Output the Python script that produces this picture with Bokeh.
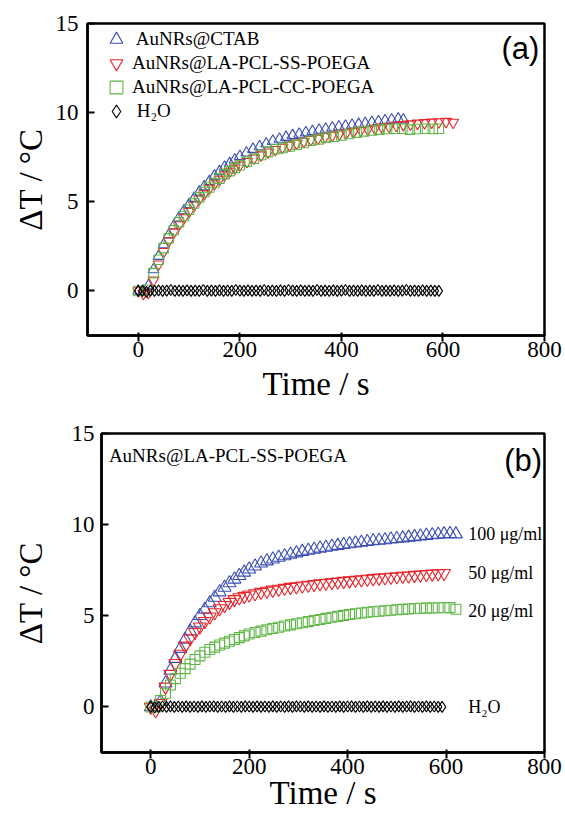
from bokeh.plotting import figure
from bokeh.models import ColumnDataSource, FixedTicker, Label, Legend, LegendItem, Range1d
from bokeh.embed import file_html
from bokeh.resources import INLINE

# ---------------- data: panel (a) ----------------
x_ticks = [0, 200, 400, 600, 800]
y_ticks = [0, 5, 10, 15]

t_ctab = [0, 10, 20, 30, 40, 50, 60, 70, 80, 90, 100, 110, 120, 130, 140, 150, 160, 170, 180, 190, 200,
          213, 226, 239, 252, 265, 278, 291, 304, 317, 330, 343, 356, 369, 382, 395, 408, 421, 434, 447,
          460, 473, 486, 499, 512, 522]
dT_ctab = [0.0, 0.0, 0.3, 1.2, 1.95, 2.6, 3.15, 3.65, 4.1, 4.5, 4.85, 5.2, 5.55, 5.85, 6.15, 6.45, 6.7, 6.95,
           7.15, 7.35, 7.55, 7.75, 7.95, 8.1, 8.25, 8.4, 8.52, 8.62, 8.72, 8.8, 8.88, 8.95, 9.02, 9.08, 9.15,
           9.2, 9.25, 9.3, 9.35, 9.4, 9.45, 9.5, 9.55, 9.6, 9.65, 9.6]

t_ss = [0, 10, 20, 30, 40, 50, 60, 70, 80, 90, 100, 110, 120, 130, 140, 150, 160, 170, 180, 190, 200,
        214, 228, 242, 256, 270, 284, 298, 312, 326, 340, 354, 368, 382, 396, 410, 424, 438, 452, 466,
        480, 494, 508, 522, 536, 550, 564, 578, 592, 606, 620]
dT_ss = [0.0, -0.15, -0.1, 0.6, 1.5, 2.2, 2.8, 3.3, 3.7, 4.1, 4.45, 4.8, 5.15, 5.45, 5.75, 6.0, 6.25, 6.5,
         6.7, 6.88, 7.05, 7.25, 7.45, 7.62, 7.78, 7.92, 8.05, 8.17, 8.28, 8.38, 8.48, 8.56, 8.64, 8.72, 8.8,
         8.87, 8.94, 9.0, 9.06, 9.12, 9.18, 9.23, 9.28, 9.32, 9.36, 9.4, 9.43, 9.46, 9.48, 9.5, 9.45]

t_cc = [0, 18, 30, 40, 50, 60, 70, 80, 90, 100, 110, 120, 130, 140, 150, 160, 170, 180, 190, 200,
        214, 228, 242, 256, 270, 284, 298, 312, 326, 340, 355, 370, 385, 400, 415, 430, 445, 460, 475,
        490, 505, 520, 535, 550, 565, 580, 592]
dT_cc = [0.0, 0.05, 1.0, 1.75, 2.4, 2.95, 3.4, 3.85, 4.2, 4.55, 4.9, 5.25, 5.55, 5.8, 6.05, 6.3, 6.55, 6.72,
         6.9, 7.05, 7.25, 7.42, 7.62, 7.8, 7.95, 8.02, 8.1, 8.2, 8.3, 8.42, 8.5, 8.6, 8.65, 8.72, 8.8, 8.88,
         8.95, 9.0, 9.05, 9.08, 9.1, 9.1, 9.05, 9.08, 9.1, 9.08, 9.1]

t_h2o = [0, 8, 16, 24, 32, 40, 48, 56, 64, 72, 80, 88, 96, 104, 112, 120, 128, 136, 144, 152,
         160, 168, 176, 184, 192, 200, 208, 216, 224, 232, 240, 248, 256, 264, 272, 280, 288, 296, 304, 312,
         320, 328, 336, 344, 352, 360, 368, 376, 384, 392, 400, 408, 416, 424, 432, 440, 448, 456, 464, 472,
         480, 488, 496, 504, 512, 520, 528, 536, 544, 552, 560, 568, 576, 584, 592]
dT_h2o_a = [0.0, 0.0, -0.05, 0.02, 0.0, 0.03, 0.0, 0.02, 0.05, 0.0,
            0.02, 0.0, 0.03, 0.0, 0.02, 0.0, 0.05, 0.0, 0.02, 0.0,
            0.03, 0.0, 0.02, 0.0, 0.05, 0.02, 0.0, 0.03, 0.0, 0.02,
            0.0, 0.05, 0.0, 0.02, 0.0, 0.03, 0.0, 0.05, 0.02, 0.0,
            0.03, 0.0, 0.02, 0.0, 0.05, 0.0, 0.02, 0.0, 0.03, 0.0,
            0.02, 0.05, 0.0, 0.02, 0.0, 0.03, 0.0, 0.02, 0.0, 0.05,
            0.0, 0.02, 0.0, 0.03, 0.0, 0.02, 0.05, 0.0, 0.02, 0.0,
            0.03, 0.0, 0.02, 0.0, 0.0]

names_a = [" AuNRs@CTAB", "AuNRs@LA-PCL-SS-POEGA", "AuNRs@LA-PCL-CC-POEGA", " H\u2082O"]

# ---------------- data: panel (b) ----------------
t_100 = [0, 10, 20, 30, 40, 50, 60, 70, 80, 90, 100, 110, 120, 130, 140, 150, 160, 170, 180, 190, 200,
         212, 224, 236, 248, 260, 272, 284, 296, 308, 320, 332, 344, 356, 368, 380, 392, 404, 416, 428,
         440, 452, 464, 476, 488, 500, 512, 524, 536, 548, 560, 572, 584, 596, 608, 620]
dT_100 = [0.0, 0.0, 0.3, 1.3, 2.0, 2.65, 3.2, 3.7, 4.15, 4.6, 5.0, 5.35, 5.7, 6.0, 6.3, 6.55, 6.8, 7.0, 7.2,
          7.38, 7.55, 7.72, 7.88, 8.0, 8.1, 8.2, 8.28, 8.36, 8.44, 8.52, 8.58, 8.64, 8.7, 8.75, 8.8, 8.85,
          8.9, 8.94, 8.98, 9.02, 9.06, 9.1, 9.13, 9.16, 9.2, 9.23, 9.26, 9.3, 9.33, 9.36, 9.4, 9.43, 9.46,
          9.48, 9.5, 9.48]

t_50 = [0, 10, 20, 30, 40, 50, 60, 70, 80, 90, 100, 110, 120, 130, 140, 150, 160, 170, 180, 190, 200,
        212, 224, 236, 248, 260, 272, 284, 296, 308, 320, 332, 344, 356, 368, 380, 392, 404, 416, 428,
        440, 452, 464, 476, 488, 500, 512, 524, 536, 548, 560, 572, 584, 596]
dT_50 = [0.0, -0.2, 0.2, 1.1, 1.8, 2.4, 2.9, 3.35, 3.75, 4.1, 4.4, 4.7, 4.95, 5.18, 5.4, 5.58, 5.75, 5.9,
         6.0, 6.08, 6.15, 6.22, 6.3, 6.36, 6.42, 6.47, 6.52, 6.57, 6.61, 6.65, 6.69, 6.73, 6.77, 6.8, 6.84,
         6.87, 6.9, 6.93, 6.96, 6.99, 7.02, 7.05, 7.08, 7.1, 7.13, 7.15, 7.18, 7.2, 7.23, 7.25, 7.28, 7.3,
         7.32, 7.33]

t_20 = [0, 10, 20, 30, 40, 50, 60, 70, 80, 90, 100, 110, 120, 130, 140, 150, 160, 170, 180, 190, 200,
        212, 224, 236, 248, 260, 272, 284, 296, 308, 320, 332, 344, 356, 368, 380, 392, 404, 416, 428,
        440, 452, 464, 476, 488, 500, 512, 524, 536, 548, 560, 572, 584, 596, 608, 620]
dT_20 = [0.0, 0.0, 0.35, 0.75, 1.2, 1.55, 1.85, 2.1, 2.35, 2.6, 2.8, 3.0, 3.15, 3.28, 3.4, 3.5, 3.6, 3.7,
         3.8, 3.9, 4.0, 4.08, 4.16, 4.23, 4.3, 4.37, 4.44, 4.5, 4.56, 4.62, 4.68, 4.74, 4.8, 4.86, 4.92,
         4.97, 5.02, 5.07, 5.11, 5.15, 5.19, 5.22, 5.25, 5.28, 5.3, 5.33, 5.35, 5.37, 5.4, 5.41, 5.42, 5.43,
         5.44, 5.44, 5.45, 5.36]

dT_h2o_b = [0.0, -0.03, 0.0, 0.02, 0.0, 0.03, 0.0, 0.02, 0.0, 0.03,
            0.0, 0.02, 0.0, 0.03, 0.0, 0.02, 0.03, 0.0, 0.02, 0.0,
            0.03, 0.0, 0.02, 0.0, 0.03, 0.02, 0.0, 0.03, 0.0, 0.02,
            0.0, 0.03, 0.0, 0.02, 0.0, 0.03, 0.0, 0.03, 0.02, 0.0,
            0.03, 0.0, 0.02, 0.0, 0.03, 0.0, 0.02, 0.0, 0.03, 0.0,
            0.02, 0.03, 0.0, 0.02, 0.0, 0.03, 0.0, 0.02, 0.0, 0.03,
            0.0, 0.02, 0.0, 0.03, 0.0, 0.02, 0.03, 0.0, 0.02, 0.0,
            0.03, 0.0, 0.02, 0.0, 0.0]

title_b = "AuNRs@LA-PCL-SS-POEGA"
conc_labels = ["100 \u03bcg/ml", "50 \u03bcg/ml", "20 \u03bcg/ml", "H\u2082O"]

# ---------------- styling ----------------
SERIF = "Liberation Serif"
SERIF_AX = '"Liberation Serif", serif'
SANS = "Liberation Sans"
BLUE = "#3a4db5"
RED = "#e8242a"
GREEN = "#5fb646"
BLACK = "#000000"


def make_fig(frame_w, frame_h, left, top, bottom, xlab_standoff, ylab_standoff, ylabel_standoff):
    p = figure(output_backend="svg", toolbar_location=None,
               frame_width=frame_w, frame_height=frame_h,
               x_range=Range1d(-100, 800), y_range=Range1d(-2.5, 15),
               min_border_left=left, min_border_top=top,
               min_border_bottom=bottom, min_border_right=18)
    p.grid.visible = False
    p.background_fill_color = "white"
    p.border_fill_color = "white"
    p.outline_line_color = "black"
    p.outline_line_width = 2.5
    p.outline_line_alpha = 1.0
    p.xaxis.ticker = FixedTicker(ticks=x_ticks)
    p.yaxis.ticker = FixedTicker(ticks=y_ticks)
    p.xaxis.axis_line_width = 2.5
    p.yaxis.axis_line_width = 2.5
    p.xaxis.axis_line_color = "black"
    p.yaxis.axis_line_color = "black"
    p.xaxis.major_tick_line_width = 2
    p.yaxis.major_tick_line_width = 2
    p.xaxis.major_tick_line_color = "black"
    p.yaxis.major_tick_line_color = "black"
    p.xaxis.minor_tick_line_color = None
    p.yaxis.minor_tick_line_color = None
    p.xaxis.major_label_text_font = SERIF_AX
    p.yaxis.major_label_text_font = SERIF_AX
    p.xaxis.major_label_text_font_size = "23px"
    p.yaxis.major_label_text_font_size = "23px"
    p.xaxis.major_label_text_color = "black"
    p.yaxis.major_label_text_color = "black"
    p.xaxis.axis_label_text_font = SERIF_AX
    p.yaxis.axis_label_text_font = SERIF_AX
    p.xaxis.axis_label_text_font_size = "33px"
    p.yaxis.axis_label_text_font_size = "33px"
    p.xaxis.axis_label_text_font_style = "normal"
    p.yaxis.axis_label_text_font_style = "normal"
    p.xaxis.axis_label_text_color = "black"
    p.yaxis.axis_label_text_color = "black"
    p.xaxis.major_tick_in = 3
    p.xaxis.major_tick_out = 6
    p.xaxis.major_label_standoff = 0
    p.xaxis.axis_label = "Time / s"
    p.xaxis.axis_label_standoff = xlab_standoff
    p.yaxis.major_tick_in = 7
    p.yaxis.major_tick_out = 0
    p.yaxis.major_label_standoff = ylabel_standoff
    p.yaxis.axis_label = "\u0394T / \u00b0C"
    p.yaxis.axis_label_standoff = ylab_standoff
    return p


def pts(p, t, v, marker, color, size):
    src = ColumnDataSource(dict(t=t, v=v))
    return p.scatter("t", "v", source=src, marker=marker, size=size,
                     fill_color=None, line_color=color, line_width=1.1)


# ---------------- panel (a) ----------------
pa = make_fig(457, 312, 87, 23, 73, 6, 4, 9)
ra1 = pts(pa, t_ctab, dT_ctab, "triangle", BLUE, 11)
ra2 = pts(pa, t_ss, dT_ss, "inverted_triangle", RED, 11)
ra3 = pts(pa, t_cc, dT_cc, "square", GREEN, 9.5)
ra4 = pts(pa, t_h2o, dT_h2o_a, "diamond", BLACK, 11)

# one single-entry legend per row, so that the legend glyphs can be large while rows stay 24px apart
for k, (n, r) in enumerate(zip(names_a, [ra1, ra2, ra3, ra4])):
    leg = Legend(items=[LegendItem(label=n, renderers=[r])],
                 location=(13, 280 - 24 * k), orientation="vertical",
                 label_text_font=SERIF, label_text_font_size="19px", label_text_color="black",
                 label_height=32, glyph_height=32, glyph_width=32, label_standoff=0,
                 spacing=0, padding=0, margin=0,
                 background_fill_alpha=0.0, border_line_alpha=0.0)
    pa.add_layout(leg)
pa.add_layout(Label(x=790, y=14.6, text="(a)", text_align="right", text_baseline="top",
                    text_font=SANS, text_font_size="31px", text_color="black"))

# ---------------- panel (b) ----------------
pb = make_fig(443, 319, 101, 25, 66, -2, 20, 7)
pts(pb, t_100, dT_100, "triangle", BLUE, 13)
pts(pb, t_50, dT_50, "inverted_triangle", RED, 13)
pts(pb, t_20, dT_20, "square", GREEN, 10)
pts(pb, t_h2o, dT_h2o_b, "diamond", BLACK, 11)

pb.add_layout(Label(x=-85, y=14.35, text=title_b, text_align="left", text_baseline="top",
                    text_font=SERIF, text_font_size="19px", text_color="black"))
pb.add_layout(Label(x=795, y=14.5, text="(b)", text_align="right", text_baseline="top",
                    text_font=SANS, text_font_size="31px", text_color="black"))
for lab, yv in zip(conc_labels, [9.5, 7.35, 5.27, 0.0]):
    pb.add_layout(Label(x=645, y=yv, text=lab, text_align="left", text_baseline="middle",
                        text_font=SERIF, text_font_size="18px", text_color="black"))

# two separate roots stacked vertically, so each frame keeps its own left edge
open("out.html", "w").write(file_html([pa, pb], INLINE))
